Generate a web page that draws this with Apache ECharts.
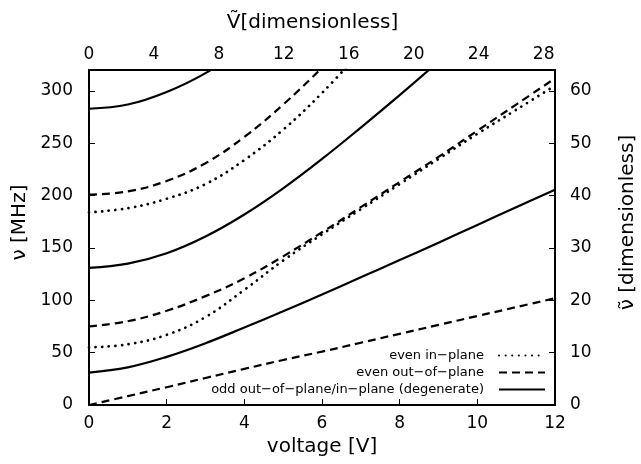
<!DOCTYPE html>
<html>
<head>
<meta charset="utf-8">
<script src="https://cdn.jsdelivr.net/npm/echarts@6/dist/echarts.min.js"></script>
<style>html,body{margin:0;padding:0;background:#fff;}#c{width:641px;height:464px;}</style>
</head>
<body>
<div id="c"></div>
<script>
// ---- data (voltage in V, frequency in MHz) ----
const voltage = [0, 1, 2, 3, 4, 5, 6, 7, 8, 9, 10, 11, 12];
const oddLow = [31, 36, 46, 59, 74, 89.5, 105.5, 122, 138.5, 155, 172, 189, 205.5];
const oddMid = [131, 135, 145, 161, 182, 207, 235, 265, 296, 328];
const oddHigh = [283, 287, 299, 317, 342];
const evenOutLow = [0, 8.5, 17, 25.8, 34.5, 43, 51, 59.5, 68, 76.5, 85, 93.5, 102];
const evenOutMid = [75, 80, 90, 104, 121, 142, 165, 189, 213, 237, 262, 287, 312];
const evenOutHigh = [201, 204, 214, 231, 256, 287, 322, 358];
const evenInLow = [55, 58, 67, 84, 110, 138, 163, 187, 211, 235, 259, 282, 305];
const evenInHigh = [184, 188, 197, 211, 234, 263, 298, 338];
const legendNames = ['even in\u2212plane', 'even out\u2212of\u2212plane', 'odd out\u2212of\u2212plane/in\u2212plane (degenerate)'];
const yTicks = [0, 50, 100, 150, 200, 250, 300];
const xTicks = [0, 2, 4, 6, 8, 10, 12];
const x2Ticks = [0, 4, 8, 12, 16, 20, 24, 28];
const y2Ticks = [0, 10, 20, 30, 40, 50, 60];

const FONT = 'DejaVu Sans';
const pairs = vals => vals.map((f, i) => [voltage[i], f]);
const styles = {
  dot: { color: '#000', width: 2.7, type: [0.1, 6.5], cap: 'round' },
  dash: { color: '#000', width: 2.2, type: [8, 5], cap: 'butt' },
  solid: { color: '#000', width: 2.2, type: 'solid' }
};
function mk(name, vals, st) {
  return {
    type: 'line', name: name, data: pairs(vals), xAxisIndex: 0, yAxisIndex: 0,
    showSymbol: false, symbol: 'none', smooth: 0.4,
    lineStyle: styles[st], itemStyle: { color: '#000' }, clip: true, silent: true
  };
}
const series = [
  mk(legendNames[0], evenInLow, 'dot'),
  mk(legendNames[0], evenInHigh, 'dot'),
  mk(legendNames[1], evenOutLow, 'dash'),
  mk(legendNames[1], evenOutMid, 'dash'),
  mk(legendNames[1], evenOutHigh, 'dash'),
  mk(legendNames[2], oddLow, 'solid'),
  mk(legendNames[2], oddMid, 'solid'),
  mk(legendNames[2], oddHigh, 'solid')
];

const axisLine = { show: true, onZero: false, lineStyle: { color: '#000', width: 2 } };
const lab = { color: '#000', fontFamily: FONT, fontSize: 17 };
const nameStyle = { color: '#000', fontFamily: FONT, fontSize: 20 };

const chart = echarts.init(document.getElementById('c'), null, { renderer: 'canvas' });
chart.setOption({
  animation: false,
  backgroundColor: '#fff',
  grid: { left: 89, top: 70, width: 466, height: 335, containLabel: false, outerBoundsMode: 'none' },
  legend: {
    data: legendNames, orient: 'vertical', right: 90, top: 344, align: 'right',
    itemWidth: 46, itemHeight: 10, itemGap: 4,
    itemStyle: { color: 'transparent', borderColor: 'transparent', borderWidth: 0, opacity: 0 },
    textStyle: { color: '#000', fontFamily: FONT, fontSize: 13, padding: [0, 10, 0, 0] },
    selectedMode: false
  },
  xAxis: [
    {
      type: 'value', position: 'bottom', min: xTicks[0], max: xTicks[xTicks.length - 1], interval: 2,
      axisLine: axisLine, axisTick: { show: true, inside: true, length: 6, lineStyle: { color: '#000', width: 1 } },
      axisLabel: Object.assign({ margin: 10 }, lab), splitLine: { show: false },
      name: 'voltage [V]', nameLocation: 'middle', nameGap: 26, nameTextStyle: nameStyle
    },
    {
      type: 'value', position: 'top', min: 0, max: 28.7, interval: 4,
      axisLine: axisLine, axisTick: { show: false },
      axisLabel: Object.assign({ margin: 7, showMaxLabel: false }, lab), splitLine: { show: false },
      name: 'V\u0303[dimensionless]', nameLocation: 'middle', nameGap: 37,
      nameTextStyle: Object.assign({ padding: [0, 19, 0, 0] }, nameStyle)
    }
  ],
  yAxis: [
    {
      type: 'value', position: 'left', min: 0, max: 320, interval: 50,
      axisLine: axisLine, axisTick: { show: true, inside: true, length: 6, lineStyle: { color: '#000', width: 1 } },
      axisLabel: Object.assign({ margin: 16, showMaxLabel: false }, lab), splitLine: { show: false },
      name: '\u03bd [MHz]', nameLocation: 'middle', nameGap: 56, nameRotate: 90,
      nameTextStyle: Object.assign({ padding: [0, 0, 0, 30] }, nameStyle)
    },
    {
      type: 'value', position: 'right', min: 0, max: 64, interval: 10,
      axisLine: axisLine, axisTick: { show: true, inside: true, length: 6, lineStyle: { color: '#000', width: 1 } },
      axisLabel: Object.assign({ margin: 15, showMaxLabel: false }, lab), splitLine: { show: false },
      name: '\u03bd\u0303 [dimensionless]', nameLocation: 'middle', nameGap: 63, nameRotate: 90,
      nameTextStyle: Object.assign({ padding: [0, 0, 0, 30] }, nameStyle)
    }
  ],
  series: series
});
</script>
</body>
</html>
